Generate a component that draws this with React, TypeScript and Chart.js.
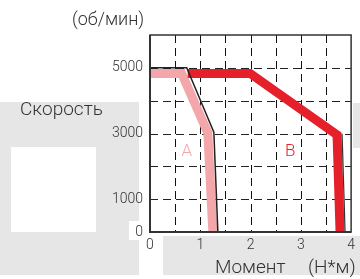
import React, { useEffect, useRef } from 'react';
import { Chart, registerables } from 'chart.js';

Chart.register(...registerables);

// ---- data ----
const xMin = 0;
const xMax = 4;
const yMin = 0;
const yMax = 6000;
const xLabelValues = [0, 1, 2, 3, 4];
const yLabelValues = [0, 1000, 3000, 5000];

// A: light band and its black edge line
const bandA = [
  { x: 0, y: 4830 },
  { x: 0.63, y: 4830 },
  { x: 1.15, y: 3020 },
  { x: 1.25, y: 0 },
];
const edgeA = [
  { x: 0, y: 5000 },
  { x: 0.73, y: 5000 },
  { x: 1.27, y: 3040 },
  { x: 1.35, y: 0 },
];
// B: red band and its dark right edge
const bandB = [
  { x: 0.75, y: 4830 },
  { x: 1.99, y: 4830 },
  { x: 3.72, y: 2960 },
  { x: 3.78, y: 0 },
];
const edgeB = [
  { x: 3.82, y: 2990 },
  { x: 3.88, y: 0 },
];
const seriesLabels = [
  { text: 'A', x: 0.73, y: 2440, color: '#f4a7aa' },
  { text: 'B', x: 2.79, y: 2440, color: '#e5202b' },
];

const FONT = 'Roboto, "Noto Sans", sans-serif';

export default function App() {
  const ref = useRef<HTMLCanvasElement | null>(null);

  useEffect(() => {
    if (!ref.current) return;

    const gridPlugin = {
      id: 'dashedGrid',
      beforeDatasetsDraw(chart: any) {
        const { ctx, chartArea, scales } = chart;
        ctx.save();
        ctx.lineWidth = 1;
        ctx.setLineDash([8, 5]);
        ctx.strokeStyle = '#111';
        for (const t of scales.x.ticks) {
          if (t.value <= xMin || t.value >= xMax) continue;
          const px = Math.round(scales.x.getPixelForValue(t.value)) + 0.5;
          ctx.beginPath();
          ctx.moveTo(px, chartArea.top);
          ctx.lineTo(px, chartArea.bottom);
          ctx.stroke();
        }
        ctx.strokeStyle = '#222';
        for (const t of scales.y.ticks) {
          if (t.value <= yMin || t.value >= yMax) continue;
          const py = Math.round(scales.y.getPixelForValue(t.value)) + 0.5;
          ctx.beginPath();
          ctx.moveTo(chartArea.left, py);
          ctx.lineTo(chartArea.right, py);
          ctx.stroke();
        }
        ctx.restore();
      },
      afterDatasetsDraw(chart: any) {
        const { ctx, chartArea, scales } = chart;
        ctx.save();
        ctx.strokeStyle = '#333';
        ctx.lineWidth = 1.5;
        ctx.setLineDash([]);
        ctx.strokeRect(chartArea.left, chartArea.top, chartArea.right - chartArea.left, chartArea.bottom - chartArea.top);
        ctx.lineWidth = 2;
        ctx.beginPath();
        ctx.moveTo(chartArea.left, chartArea.top);
        ctx.lineTo(chartArea.left, chartArea.bottom);
        ctx.lineTo(chartArea.right, chartArea.bottom);
        ctx.stroke();
        ctx.font = `300 17px ${FONT}`;
        ctx.textAlign = 'center';
        ctx.textBaseline = 'middle';
        for (const l of seriesLabels) {
          ctx.fillStyle = l.color;
          ctx.fillText(l.text, scales.x.getPixelForValue(l.x), scales.y.getPixelForValue(l.y));
        }
        ctx.restore();
      },
    };

    const lineDs = (data: any[], color: string, width: number) => ({
      data,
      borderColor: color,
      backgroundColor: color,
      borderWidth: width,
      pointRadius: 0,
      pointHoverRadius: 0,
      fill: false,
      tension: 0,
      borderJoinStyle: 'miter',
      borderCapStyle: 'butt',
    });

    const chart = new Chart(ref.current, {
      type: 'line',
      data: {
        datasets: [
          lineDs(edgeA, '#222', 1.5),
          lineDs(edgeB, '#333', 1.2),
          lineDs(bandB, '#e5202b', 9),
          lineDs(bandA, '#f4a7aa', 9),
        ] as any,
      },
      options: {
        responsive: false,
        animation: false,
        events: [],
        layout: { padding: { top: 35, right: 8, left: 0, bottom: 0 } },
        plugins: { legend: { display: false }, tooltip: { enabled: false } },
        scales: {
          x: {
            type: 'linear',
            min: xMin,
            max: xMax,
            afterFit: (s: any) => { s.height = 47; },
            ticks: {
              stepSize: 0.5,
              autoSkip: false,
              maxRotation: 0,
              padding: 5,
              color: '#333',
              font: { family: FONT, size: 14, weight: '300' },
              callback: (v: any) => (xLabelValues.includes(Number(v)) ? String(v) : ''),
            },
            grid: { display: false, drawTicks: false },
            border: { display: false },
          },
          y: {
            type: 'linear',
            min: yMin,
            max: yMax,
            afterFit: (s: any) => { s.width = 150; },
            ticks: {
              stepSize: 1000,
              autoSkip: false,
              padding: 7,
              color: '#333',
              font: { family: FONT, size: 14, weight: '300' },
              callback: (v: any) => (yLabelValues.includes(Number(v)) ? String(v) : ''),
            },
            grid: { display: false, drawTicks: false },
            border: { display: false },
          },
        },
      } as any,
      plugins: [gridPlugin],
    });
    return () => chart.destroy();
  }, []);

  const gray = '#e6e6e6';
  const box = (l: number, t: number, w: number, h: number, bg: string) => (
    <div style={{ position: 'absolute', left: l, top: t, width: w, height: h, background: bg }} />
  );
  const text = (s: string, l: number, t: number, size: number) => (
    <div style={{ position: 'absolute', left: l, top: t, fontFamily: FONT, fontWeight: 300, fontSize: size, lineHeight: 1, color: '#333', whiteSpace: 'nowrap', zIndex: 2 }}>{s}</div>
  );

  return (
    <div style={{ position: 'fixed', left: 0, top: 0, width: 360, height: 279, background: '#fff', overflow: 'hidden' }}>
      {box(0, 102, 139, 173, gray)}
      {box(11, 147, 85, 85, '#fff')}
      {box(129, 221, 10, 19, '#fff')}
      {box(163, 236, 197, 39, gray)}
      {box(353, 103, 7, 45, gray)}
      <canvas ref={ref} width={360} height={279} style={{ position: 'absolute', left: 0, top: 0, width: 360, height: 279, zIndex: 1 }} />
      {text('(об/мин)', 72, 10, 18)}
      {text('Скорость', 20, 99, 19)}
      {text('Момент', 215, 257, 19)}
      {text('(Н*м)', 308, 257, 19)}
    </div>
  );
}
